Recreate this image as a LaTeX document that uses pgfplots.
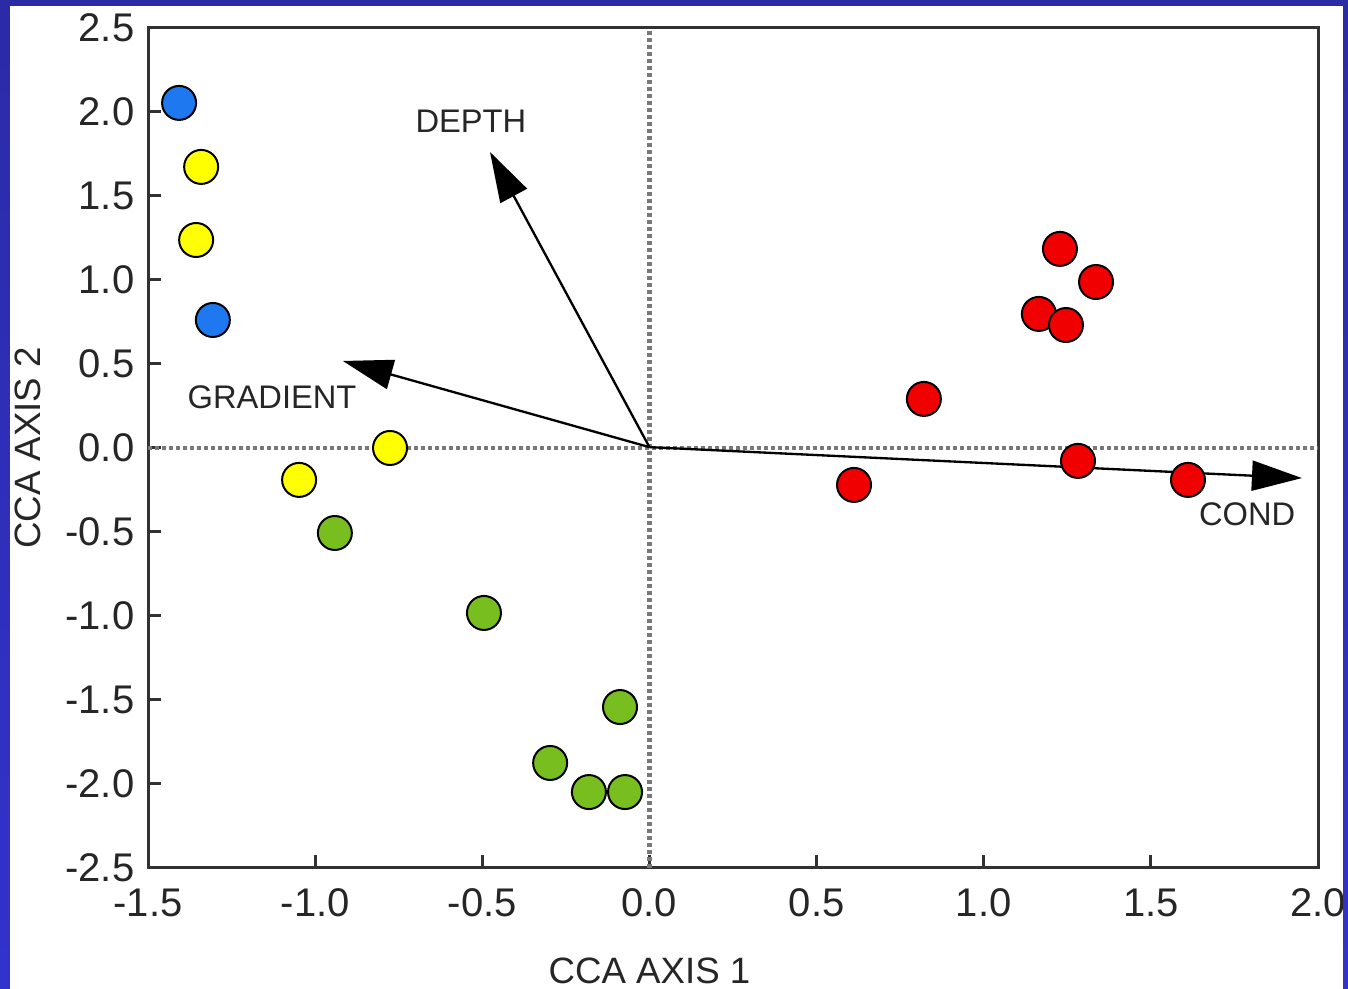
\documentclass[border=0pt]{standalone}
\usepackage{fontspec}
\setmainfont{Liberation Sans}
\usepackage{pgfplots}
\pgfplotsset{compat=1.18}
\usetikzlibrary{arrows.meta}

\definecolor{frameblue}{RGB}{43,43,168}
\definecolor{frameblue2}{RGB}{50,50,205}
\definecolor{ptblue}{RGB}{30,120,240}
\definecolor{ptyellow}{RGB}{255,255,0}
\definecolor{ptgreen}{RGB}{120,190,30}
\definecolor{ptred}{RGB}{240,0,0}
\definecolor{axisgray}{RGB}{50,50,50}
\definecolor{dotgray}{RGB}{120,120,120}

% 1 px of the reference = 0.3pt
\begin{document}
\begin{tikzpicture}
\useasboundingbox (0,0) rectangle (404.4pt,296.7pt);
\shade[top color=frameblue, bottom color=frameblue2] (0,0) rectangle (404.4pt,296.7pt);
\fill[white] (3pt,0) rectangle (402.9pt,294.9pt);

\begin{axis}[
  at={(44.4pt,36.3pt)}, anchor=south west,
  scale only axis,
  width=351pt, height=252pt,
  xmin=-1.5, xmax=2.0, ymin=-2.5, ymax=2.5,
  axis line style={axisgray, line width=0.9pt},
  tick style={axisgray, line width=0.9pt},
  tick align=inside,
  major tick length=4pt,
  xtick pos=left, ytick pos=left,
  xtick={-1.5,-1.0,-0.5,0,0.5,1.0,1.5,2.0},
  xticklabels={-1.5,-1.0,-0.5,0.0,0.5,1.0,1.5,2.0},
  ytick={-2.5,-2.0,-1.5,-1.0,-0.5,0,0.5,1.0,1.5,2.0,2.5},
  yticklabels={-2.5,-2.0,-1.5,-1.0,-0.5,0.0,0.5,1.0,1.5,2.0,2.5},
  every tick label/.append style={font=\fontsize{12}{14}\selectfont, text=black!85, inner sep=0pt},
  xticklabel shift=6pt,
  yticklabel shift=3.9pt,
  xlabel={CCA AXIS 1},
  ylabel={CCA AXIS 2},
  xlabel style={at={(axis description cs:0.4286,0)}, anchor=center, yshift=-30.9pt, font=\fontsize{11}{13}\selectfont, text=black!85},
  ylabel style={at={([xshift=-36pt]axis description cs:0,0.5)}, anchor=center, rotate=0, font=\fontsize{11}{13}\selectfont, text=black!85},
  clip=false,
]
% zero lines
\addplot[dotgray, line width=1.3pt, dash pattern=on 1.2pt off 0.9pt] coordinates {(-1.5,0) (2.0,0)};
\addplot[dotgray, line width=1.3pt, dash pattern=on 1.2pt off 0.9pt] coordinates {(0,-2.5) (0,2.5)};

% environmental vectors
\addplot[black, line width=0.7pt, -{Triangle[length=15pt,width=9pt]}] coordinates {(0,0.005) (-0.477,1.762)};
\addplot[black, line width=0.7pt, -{Triangle[length=15pt,width=9pt]}] coordinates {(0,0.005) (-0.917,0.518)};
\addplot[black, line width=0.7pt, -{Triangle[length=15pt,width=9pt]}] coordinates {(0,0.005) (1.952,-0.179)};

% sites
\addplot[only marks, mark=*, mark size=5.1pt, mark options={fill=ptblue, draw=black, line width=0.6pt}]
  coordinates {(-1.407,2.054) (-1.306,0.762)};
\addplot[only marks, mark=*, mark size=5.1pt, mark options={fill=ptyellow, draw=black, line width=0.6pt}]
  coordinates {(-1.341,1.673) (-1.356,1.238) (-0.776,0.000) (-1.048,-0.190)};
\addplot[only marks, mark=*, mark size=5.1pt, mark options={fill=ptgreen, draw=black, line width=0.6pt}]
  coordinates {(-0.941,-0.506) (-0.495,-0.982) (-0.088,-1.542) (-0.297,-1.875) (-0.181,-2.048) (-0.073,-2.048)};
\addplot[only marks, mark=*, mark size=5.1pt, mark options={fill=ptred, draw=black, line width=0.6pt}]
  coordinates {(1.228,1.185) (1.336,0.988) (1.165,0.798) (1.246,0.732) (0.821,0.292) (0.612,-0.220) (1.282,-0.077) (1.611,-0.190)};

% vector labels
\node[font=\fontsize{9.8}{12}\selectfont, text=black!85] at (axis cs:-0.534,1.946) {DEPTH};
\node[font=\fontsize{9.8}{12}\selectfont, text=black!85] at (axis cs:-1.129,0.304) {GRADIENT};
\node[font=\fontsize{9.8}{12}\selectfont, text=black!85] at (axis cs:1.788,-0.393) {COND};
\end{axis}

\shade[top color=frameblue, bottom color=frameblue2] (402.9pt,0) rectangle (404.4pt,296.7pt);
\end{tikzpicture}
\end{document}
